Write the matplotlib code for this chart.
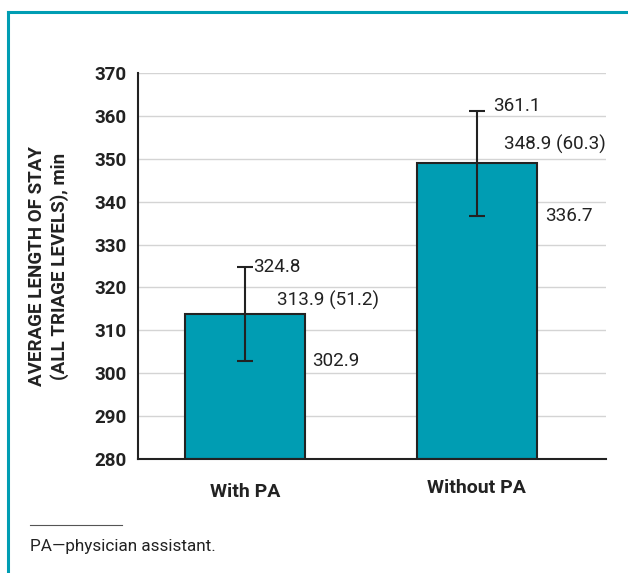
import matplotlib.pyplot as plt
from matplotlib.lines import Line2D

plt.rcParams['font.family'] = ['Roboto', 'DejaVu Sans']

# data
groups = ['With PA', 'Without PA']
means = [313.9, 348.9]
sds = [51.2, 60.3]
ci_low = [302.9, 336.7]
ci_high = [324.8, 361.1]
yticks = [280, 290, 300, 310, 320, 330, 340, 350, 360, 370]

teal = '#009db3'
dark = '#222222'

fig = plt.figure(figsize=(6.28, 5.73), dpi=100)
ax = fig.add_axes([0.2197, 0.199, 0.745, 0.6736])

x = range(len(groups))
err = [[m - lo for m, lo in zip(means, ci_low)],
       [hi - m for m, hi in zip(means, ci_high)]]
ax.bar(x, [m - 280 for m in means], bottom=280, width=0.517,
       color=teal, edgecolor=dark, linewidth=1.5, zorder=2)
ax.errorbar(x, means, yerr=err, fmt='none', ecolor=dark, elinewidth=1.5,
            capsize=6, capthick=1.5, zorder=3)

ax.set_xlim(-0.461, 1.556)
ax.set_ylim(280, 370)
ax.set_yticks(yticks)
ax.yaxis.grid(True, color='#d4d4d4', linewidth=1, zorder=0)
ax.set_axisbelow(True)
for s in ['top', 'right']:
    ax.spines[s].set_visible(False)
ax.spines['left'].set_color(dark)
ax.spines['bottom'].set_color(dark)
ax.spines['left'].set_linewidth(1.5)
ax.spines['bottom'].set_linewidth(1.5)
ax.tick_params(axis='y', length=0, pad=8, labelsize=13.5, labelcolor=dark)
for t in ax.get_yticklabels():
    t.set_fontweight('semibold')
ax.set_xticks([])

# category labels
cat_y = [-0.085, -0.075]
for i, g in enumerate(groups):
    ax.text(i, cat_y[i], g, transform=ax.get_xaxis_transform(), ha='center',
            va='center', fontsize=14, fontweight='bold', color=dark)

ax.set_ylabel('AVERAGE LENGTH OF STAY\n(ALL TRIAGE LEVELS), min',
              fontsize=13.5, fontweight='bold', color=dark, labelpad=18,
              linespacing=1.3)

# value labels
fs = 13.6
ax.text(0.035, ci_high[0], f'{ci_high[0]:.1f}', ha='left', va='center', fontsize=fs, color=dark)
ax.text(0.138, means[0] + 0.8, f'{means[0]:.1f} ({sds[0]:.1f})', ha='left', va='bottom', fontsize=fs, color=dark)
ax.text(0.289, ci_low[0], f'{ci_low[0]:.1f}', ha='left', va='center', fontsize=fs, color=dark)
ax.text(1.069, ci_high[1] + 1.3, f'{ci_high[1]:.1f}', ha='left', va='center', fontsize=fs, color=dark)
ax.text(1.116, means[1] + 2.2, f'{means[1]:.1f} ({sds[1]:.1f})', ha='left', va='bottom', fontsize=fs, color=dark)
ax.text(1.293, ci_low[1], f'{ci_low[1]:.1f}', ha='left', va='center', fontsize=fs, color=dark)

# footnote
fig.add_artist(Line2D([30 / 628, 122 / 628], [1 - 525 / 573] * 2, color='#555555', linewidth=0.8))
fig.text(30 / 628, 1 - 547 / 573, 'PA\u2014physician assistant.', ha='left', va='center',
         fontsize=12.3, color=dark)

# teal frame
fig.add_artist(Line2D([8 / 628, 8 / 628], [0, 1 - 12 / 573], color=teal, linewidth=2.2))
fig.add_artist(Line2D([8 / 628, 1], [1 - 12 / 573] * 2, color=teal, linewidth=2.2))

fig.savefig('out.png', dpi=100)
